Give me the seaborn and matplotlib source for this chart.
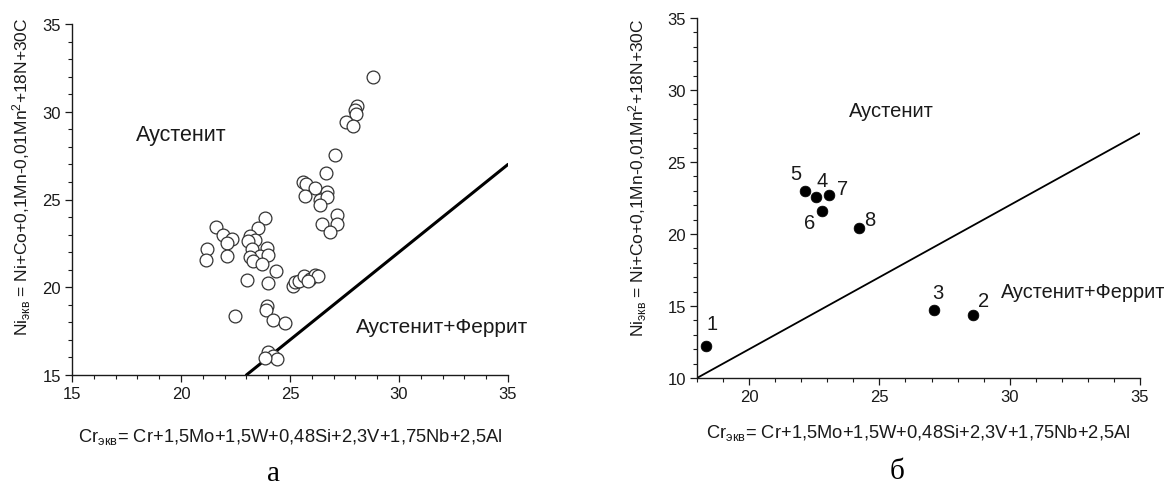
import matplotlib
matplotlib.use("Agg")
import matplotlib.pyplot as plt
from matplotlib.ticker import MultipleLocator
import pandas as pd
import seaborn as sns

# Panel а: Cr- and Ni-equivalents of the surveyed steels
survey_cr = [28.81, 28.07, 27.98, 28.03, 27.57, 27.89, 27.06, 26.65, 25.60, 25.73,
             26.15, 25.69, 26.70, 26.38, 26.70, 26.38, 27.16, 26.47, 27.16, 26.83,
             21.61, 21.93, 22.34, 22.11, 21.19, 21.15, 22.11, 23.85, 23.53, 23.17,
             23.39, 23.07, 23.26, 23.94, 23.62, 23.17, 23.30, 23.99, 23.72, 24.36,
             23.03, 23.99, 25.14, 25.23, 25.41, 25.64, 25.92, 26.15, 26.28, 25.83,
             22.48, 23.94, 23.90, 24.22, 24.77, 23.99, 24.22, 24.40, 23.85]
survey_ni = [31.98, 30.33, 30.10, 29.87, 29.42, 29.19, 27.54, 26.51, 26.00, 25.88,
             25.66, 25.20, 25.43, 24.97, 25.14, 24.69, 24.12, 23.60, 23.60, 23.15,
             23.43, 22.98, 22.75, 22.52, 22.18, 21.55, 21.78, 23.95, 23.38, 22.92,
             22.69, 22.64, 22.18, 22.24, 21.78, 21.72, 21.50, 21.84, 21.32, 20.93,
             20.41, 20.24, 20.07, 20.30, 20.36, 20.64, 20.47, 20.70, 20.64, 20.36,
             18.36, 18.93, 18.70, 18.13, 17.96, 16.31, 16.08, 15.91, 15.97]

# Panel б: investigated alloys 1-8
alloy_ids = ["1", "2", "3", "4", "5", "6", "7", "8"]
alloy_cr = [18.34, 28.59, 27.09, 22.56, 22.15, 22.79, 23.07, 24.23]
alloy_ni = [12.20, 14.38, 14.74, 22.59, 23.01, 21.62, 22.73, 20.40]

# Austenite / austenite+ferrite boundary
boundary_a_cr = [23, 35]
boundary_a_ni = [15, 27]
boundary_b_cr = [18, 35]
boundary_b_ni = [10, 27]

# Label offsets (pixels) for the alloy numbers
label_offsets = {"1": (6, 23), "2": (11, 14), "3": (4, 17), "4": (6, 16),
                 "5": (-9, 17), "6": (-12, -12), "7": (13, 6), "8": (10, 9)}

sns.set_style("ticks")
plt.rcParams["font.family"] = ["Liberation Sans", "DejaVu Sans"]
plt.rcParams["mathtext.fontset"] = "custom"
plt.rcParams["mathtext.rm"] = "Liberation Sans"
plt.rcParams["mathtext.it"] = "Liberation Sans:italic"
plt.rcParams["mathtext.default"] = "regular"

INK = "#1a1a1a"
W, H = 1170, 489
fig = plt.figure(figsize=(W / 100, H / 100), dpi=100)
fig.patch.set_facecolor("white")


def px_axes(left, top, right, bottom):
    return fig.add_axes([left / W, 1 - bottom / H, (right - left) / W, (bottom - top) / H])


def style_axes(ax, xlim, ylim, xmajor):
    ax.set_xlim(*xlim)
    ax.set_ylim(*ylim)
    ax.set_xticks(xmajor)
    ax.set_yticks(list(range(int(ylim[0]), int(ylim[1]) + 1, 5)))
    ax.xaxis.set_minor_locator(MultipleLocator(1))
    ax.yaxis.set_minor_locator(MultipleLocator(1))
    for side in ("top", "right"):
        ax.spines[side].set_visible(False)
    for side in ("left", "bottom"):
        ax.spines[side].set_color(INK)
        ax.spines[side].set_linewidth(1.0)
    ax.tick_params(which="major", direction="out", length=5, width=0.9,
                   color=INK, labelsize=12, labelcolor=INK, pad=3)
    ax.tick_params(which="minor", direction="out", length=3, width=0.8, color=INK)
    ax.set_xlabel("")
    ax.set_ylabel("")
    ax.set_facecolor("white")


ylabel_txt = r"Ni$_{экв}$ = Ni+Co+0,1Mn-0,01Mn$^{2}$+18N+30C"
xlabel_txt = r"Cr$_{экв}$= Cr+1,5Mo+1,5W+0,48Si+2,3V+1,75Nb+2,5Al"

# ---- panel а ----
ax1 = px_axes(72, 25, 508, 376)
df_a = pd.DataFrame({"cr": survey_cr, "ni": survey_ni})
sns.lineplot(x=boundary_a_cr, y=boundary_a_ni, ax=ax1, color="black",
             linewidth=2.2, legend=False)
sns.scatterplot(data=df_a, x="cr", y="ni", ax=ax1, marker="o", s=85,
                color="white", edgecolor="#333333", linewidth=0.9,
                legend=False, zorder=3)
style_axes(ax1, (15, 35), (15, 35), [15, 20, 25, 30, 35])
ax1.text(17.94, 28.73, "Аустенит", fontsize=15.5, color=INK, ha="left", va="center")
ax1.text(28.03, 17.79, "Аустенит+Феррит", fontsize=15, color=INK,
         ha="left", va="center", clip_on=False)

# ---- panel б ----
ax2 = px_axes(697, 19, 1140, 379)
df_b = pd.DataFrame({"cr": alloy_cr, "ni": alloy_ni, "id": alloy_ids})
sns.lineplot(x=boundary_b_cr, y=boundary_b_ni, ax=ax2, color="black",
             linewidth=1.3, legend=False)
sns.scatterplot(data=df_b, x="cr", y="ni", ax=ax2, marker="o", s=60,
                color="black", edgecolor="black", linewidth=0.5,
                legend=False, zorder=3)
for cid, cx, cy in zip(alloy_ids, alloy_cr, alloy_ni):
    dx, dy = label_offsets[cid]
    ax2.annotate(cid, (cx, cy), xytext=(dx, dy), textcoords="offset pixels",
                 fontsize=14.5, color=INK, ha="center", va="center")
style_axes(ax2, (18, 35), (10, 35), [20, 25, 30, 35])
ax2.text(23.83, 28.6, "Аустенит", fontsize=14.5, color=INK, ha="left", va="center")
ax2.text(29.68, 16.04, "Аустенит+Феррит", fontsize=14.3, color=INK,
         ha="left", va="center", clip_on=False)

# ---- axis titles and panel letters ----
fig.text(22 / W, 1 - 177 / H, ylabel_txt, rotation=90, fontsize=12.5,
         color=INK, ha="center", va="center")
fig.text(638 / W, 1 - 178 / H, ylabel_txt, rotation=90, fontsize=12.5,
         color=INK, ha="center", va="center")
fig.text(290 / W, 1 - 437 / H, xlabel_txt, fontsize=13.2, color=INK,
         ha="center", va="center")
fig.text(918 / W, 1 - 433 / H, xlabel_txt, fontsize=13.2, color=INK,
         ha="center", va="center")
fig.text(273 / W, 1 - 474 / H, "а", fontsize=21, color="black",
         family="Liberation Serif", ha="center", va="center")
fig.text(897 / W, 1 - 472 / H, "б", fontsize=21, color="black",
         family="Liberation Serif", ha="center", va="center")

fig.savefig("out.png", dpi=100, facecolor="white")
